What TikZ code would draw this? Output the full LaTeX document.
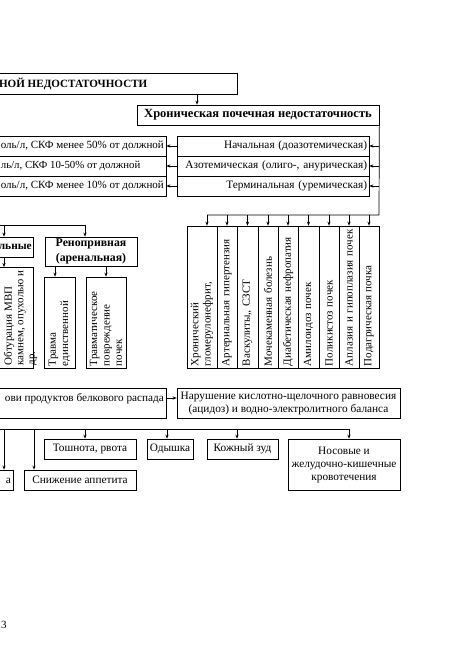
\documentclass[tikz,border=0pt]{standalone}
\usepackage{fontspec}
\setmainfont{Liberation Serif}
\usetikzlibrary{arrows.meta}
\begin{document}
\begin{tikzpicture}[x=1pt,y=-1pt,
  txt/.style={font=\fontsize{11}{12.5}\selectfont, inner sep=0pt},
  bt/.style={font=\fontsize{11.1}{14}\bfseries\selectfont, inner sep=0pt},
  box/.style={draw, line width=0.7pt, inner sep=2pt, font=\fontsize{11.3}{13}\selectfont},
  boldbox/.style={box, font=\fontsize{11.8}{14.5}\bfseries\selectfont},
  vbox/.style={box, rotate=90, align=left, font=\fontsize{11}{12.3}\selectfont},
  vtext/.style={txt, rotate=90, align=left, font=\fontsize{11}{11.5}\selectfont},
  arr/.style={-{Stealth[length=4pt,width=3.2pt]}, line width=0.7pt},
  ln/.style={line width=0.7pt}]
\path[use as bounding box] (0,0) rectangle (475,671);
\clip (0,0) rectangle (475,671);

% x guides
\coordinate (x4) at (4,0);
\coordinate (x34) at (34,0);
\coordinate (x55) at (55,0);
\coordinate (x85) at (85,0);
\coordinate (x167) at (167,0);
\coordinate (x197) at (197,0);
\coordinate (x207) at (207,0);
\coordinate (x237) at (237,0);
\coordinate (x349) at (349,0);
\coordinate (y398) at (0,398);

% top
\node[box, minimum width=320, minimum height=21, anchor=east] (top) at (238,83.5) {};
\node[bt, anchor=east] (toptxt) at (147.5,83.5) {НОЙ НЕДОСТАТОЧНОСТИ};
\node[box, font=\fontsize{12.5}{14}\bfseries\selectfont, minimum width=242, minimum height=20] (chron) at (258,115) {Хроническая почечная недостаточность};
\draw[arr] (x197 |- top.south) -- (x197 |- chron.north);

% stages
\node[box, minimum width=192, minimum height=20, text width=188, align=right] (s1) at (273,146) {Начальная (доазотемическая)};
\node[box, minimum width=192, minimum height=20, text width=188, align=right] (s2) at (273,166) {Азотемическая (олиго-, анурическая)};
\node[box, minimum width=192, minimum height=20, text width=188, align=right] (s3) at (273,186) {Терминальная (уремическая)};

\node[box, minimum width=230, minimum height=20] (l1) at (51,146) {};
\node[box, minimum width=230, minimum height=20] (l2) at (51,166) {};
\node[box, minimum width=230, minimum height=20] (l3) at (51,186) {};
\node[txt, anchor=east] (l1t) at (164,146) {оль/л, СКФ менее 50\% от должной};
\node[txt, font=\fontsize{10.8}{12.5}\selectfont, anchor=east] (l2t) at (140.5,166) {ль/л, СКФ 10-50\% от должной};
\node[txt, anchor=east] (l3t) at (164,186) {оль/л, СКФ менее 10\% от должной};

\draw[arr] (s1.west) -- (l1.east);
\draw[arr] (s2.west) -- (l2.east);
\draw[arr] (s3.west) -- (l3.east);

% right bus
\coordinate (rb) at (379,215);
\draw[arr] (rb |- s1.east) -- (s1.east);
\draw[arr] (rb |- s2.east) -- (s2.east);
\draw[arr] (rb |- s3.east) -- (s3.east);

% vertical boxes
\node[vbox, minimum width=142, minimum height=30, text width=138] (v1) at (202,297) {\mbox{Хронический}\\\mbox{гломерулонефрит,}};
\node[vbox, minimum width=142, minimum height=20, text width=138] (v2) at (227,297) {\mbox{Артериальная гипертензия}};
\node[vbox, minimum width=142, minimum height=21, text width=138] (v3) at (247.5,297) {\mbox{Васкулиты,, СЗСТ}};
\node[vbox, minimum width=142, minimum height=20, text width=138] (v4) at (268,297) {\mbox{Мочекаменная болезнь}};
\node[vbox, minimum width=142, minimum height=20, text width=138] (v5) at (288,297) {\mbox{Диабетическая нефропатия}};
\node[vbox, minimum width=142, minimum height=21, text width=138] (v6) at (308.5,297) {\mbox{Амилоидоз почек}};
\node[vbox, minimum width=142, minimum height=20, text width=138] (v7) at (329,297) {\mbox{Поликистоз почек}};
\node[vbox, minimum width=142, minimum height=20, text width=138] (v8) at (349,297) {\mbox{Аплазия и гипоплазия почек}};
\node[vbox, minimum width=142, minimum height=20, text width=138] (v9) at (369,297) {\mbox{Подагрическая почка}};

\draw[ln] (chron.south east) -- (rb) -- (x207 |- rb);
\draw[arr] (x207 |- rb) -- (x207 |- v1.east);
\foreach \i in {2,...,9} \draw[arr] (v\i.east |- rb) -- (v\i.east);

% left part
\coordinate (lb) at (-5,225);
\node[boldbox, minimum width=80, minimum height=20, anchor=east] (lnb) at (34,247) {};
\node[bt, font=\fontsize{11.4}{14}\bfseries\selectfont, anchor=east] (lnbt) at (32,247) {льные};
\node[boldbox, minimum width=92, minimum height=29, align=center] (reno) at (91,251.5) {Ренопривная\\(аренальная)};
\node[box, minimum width=42, minimum height=101, anchor=north east] (obt) at (34,267) {};
\node[vtext, anchor=west] (obtt) at (20.5,365.5) {Обтурация МВП\\камнем, опухолью и\\др.};
\node[vbox, minimum width=91, minimum height=31, text width=87] (tr1) at (59.5,322.5) {\mbox{Травма}\\\mbox{единственной}};
\node[vbox, minimum width=91, minimum height=40, text width=87] (tr2) at (106,322.5) {\mbox{Травматическое}\\\mbox{повреждение}\\\mbox{почек}};

\draw[ln] (lb) -- (x85 |- lb);
\draw[arr] (x4 |- lb) -- (x4 |- lnb.north);
\draw[arr] (x85 |- lb) -- (x85 |- reno.north);
\draw[arr] (x4 |- lnb.south) -- (x4 |- obt.north);
\draw[arr] (x55 |- reno.south) -- (x55 |- tr1.east);
\draw[arr] (tr2.east |- reno.south) -- (tr2.east);

% lower section
\node[box, minimum width=230, minimum height=30, anchor=east] (bp) at (167,403) {};
\node[txt, font=\fontsize{11.2}{13}\selectfont, anchor=base east] (bpt) at (164,401.5) {ови продуктов белкового распада};
\node[box, minimum width=223, minimum height=30, align=center] (nar) at (288.5,403.5) {Нарушение кислотно-щелочного равновесия\\(ацидоз) и водно-электролитного баланса};
\draw[arr] (bp.east |- y398) -- (nar.west |- y398);

\coordinate (lb2) at (-5,429);
\node[box, minimum width=40, minimum height=20, anchor=east] (aa) at (14,480) {};
\node[txt, font=\fontsize{11.3}{13}\selectfont, anchor=base east] (aat) at (11,483.5) {а};
\node[box, minimum width=112, minimum height=20] (sn) at (80,480) {Снижение аппетита};
\node[box, minimum width=92, minimum height=20] (tosh) at (90,449) {Тошнота, рвота};
\node[box, minimum width=46, minimum height=20] (od) at (170,449) {Одышка};
\node[box, minimum width=71, minimum height=20] (kz) at (242.5,449) {Кожный зуд};
\node[box, minimum width=112, minimum height=51, align=center] (nos) at (344,464.5) {Носовые и\\желудочно-кишечные\\кровотечения};

\draw[ln] (lb2) -- (x349 |- lb2);
\draw[arr] (x4 |- lb2) -- (x4 |- aa.north);
\draw[arr] (x34 |- lb2) -- (x34 |- sn.north);
\draw[arr] (x85 |- lb2) -- (x85 |- tosh.north);
\draw[arr] (x167 |- lb2) -- (x167 |- od.north);
\draw[arr] (x237 |- lb2) -- (x237 |- kz.north);
\draw[arr] (x349 |- lb2) -- (x349 |- nos.north);

\node[txt] (pg) at (4,625) {3};
\end{tikzpicture}
\end{document}
